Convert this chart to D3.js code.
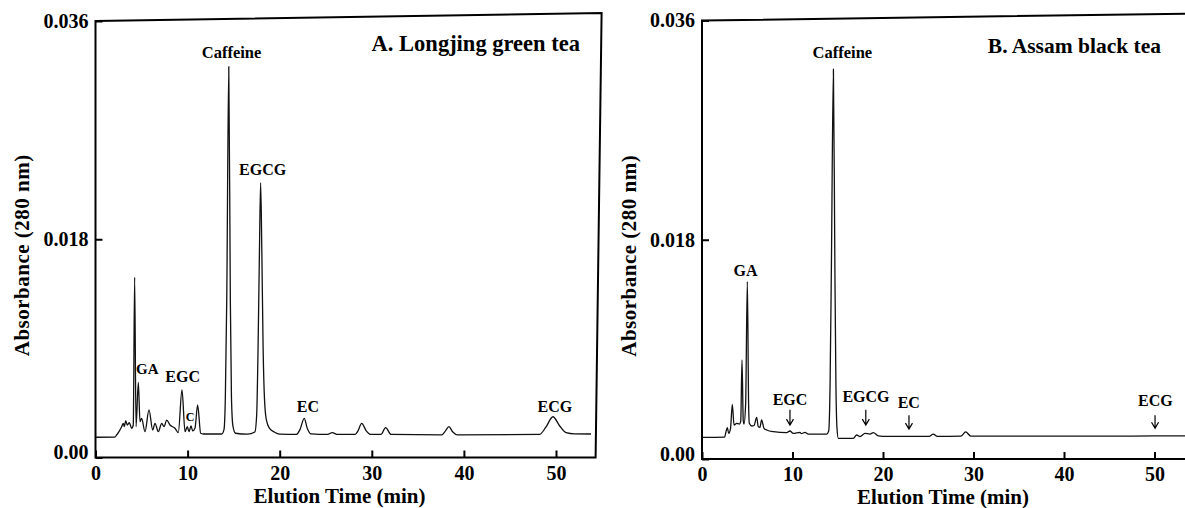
<!DOCTYPE html>
<meta charset="utf-8">
<style>
body { margin: 0; background: #fff; }
.trace { fill: none; stroke: #111; stroke-width: 1.3px; }
.frame { fill: none; stroke: #000; stroke-width: 2px; }
.arrow { fill: none; stroke: #000; stroke-width: 1.2px; }
text { font-family: "Liberation Serif", "DejaVu Serif", serif; font-weight: bold; fill: #000; }
</style>
<body>
<script src="https://cdn.jsdelivr.net/npm/d3@7"></script>
<script>

// tick values and labels
var xTicks = [0, 10, 20, 30, 40, 50];
var yTicks = [0, 0.018, 0.036];
var yTickLabels = ["0.00", "0.018", "0.036"];

// chromatogram A: [time (min), absorbance]
var traceA = [
  [0, 0.00167], [2.1, 0.00168], [2.3, 0.00186], [2.48, 0.00205], [2.84, 0.00254], [3.02, 0.00282],
  [3.13, 0.00254], [3.28, 0.00304], [3.45, 0.00268], [3.67, 0.00287], [3.93, 0.00241], [4.1, 0.00268],
  [4.25, 0.01486], [4.4, 0.00254], [4.65, 0.0062], [4.83, 0.00295], [5.01, 0.00323], [5.37, 0.00213],
  [5.81, 0.00392], [6.21, 0.00227], [6.46, 0.00282], [6.82, 0.00213], [7.19, 0.00282], [7.44, 0.00254],
  [7.73, 0.00309], [8.09, 0.00268], [8.63, 0.00241], [8.99, 0.00205], [9.39, 0.00557], [9.72, 0.00213],
  [9.97, 0.00254], [10.15, 0.00213], [10.37, 0.0026], [10.55, 0.00219], [10.8, 0.00241], [11.09, 0.00433],
  [11.42, 0.002], [11.7, 0.00194], [13.7, 0.00194], [13.95, 0.0023], [14.1, 0.005], [14.25, 0.013],
  [14.47, 0.03223], [14.64, 0.013], [14.76, 0.005], [14.92, 0.0026], [15.2, 0.002], [16.5, 0.00192],
  [17.3, 0.0021], [17.5, 0.0035], [17.65, 0.009], [17.8, 0.017], [17.93, 0.02266], [18.06, 0.017],
  [18.2, 0.009], [18.35, 0.0048], [18.55, 0.0031], [18.9, 0.0024], [19.4, 0.0021], [20, 0.00192],
  [21.8, 0.0019], [22.2, 0.0023], [22.66, 0.00323], [23.0, 0.0024], [23.4, 0.00195], [25.2, 0.0019],
  [25.7, 0.00205], [26.3, 0.0019], [28.2, 0.0019], [28.5, 0.0022], [28.9, 0.00282], [29.4, 0.0022],
  [29.9, 0.0019], [31.0, 0.0019], [31.5, 0.00246], [32.1, 0.0019], [37.6, 0.00186], [38.0, 0.0022],
  [38.37, 0.00254], [38.8, 0.0021], [39.3, 0.00186], [48.2, 0.0019], [48.9, 0.0025], [49.67, 0.00336],
  [50.4, 0.0026], [51.1, 0.00205], [52, 0.00195], [53.8, 0.00194]
];

// chromatogram B: [time (min), absorbance]
var traceB = [
  [0, 0.00178], [2.5, 0.0018], [2.65, 0.00224], [2.8, 0.00257], [2.95, 0.00211], [3.15, 0.0025],
  [3.35, 0.00449], [3.54, 0.00279], [3.83, 0.00293], [4.13, 0.00287], [4.28, 0.0031], [4.42, 0.00813],
  [4.56, 0.0031], [4.64, 0.00287], [4.82, 0.0045], [5.01, 0.01456], [5.15, 0.0045], [5.23, 0.00293],
  [5.49, 0.00271], [5.75, 0.00275], [6.04, 0.00342], [6.22, 0.00265], [6.4, 0.0026], [6.59, 0.0032],
  [6.85, 0.00252], [7.15, 0.00238], [7.88, 0.00224], [9.36, 0.00216], [9.72, 0.0023], [10.09, 0.0021],
  [10.83, 0.00219], [10.98, 0.00208], [11.38, 0.00219], [11.75, 0.00205], [13.78, 0.00205], [14.0, 0.0023],
  [14.15, 0.006], [14.3, 0.016], [14.52, 0.032], [14.68, 0.016], [14.8, 0.006], [14.92, 0.0025],
  [15.06, 0.0017], [16.72, 0.0017], [17.09, 0.00197], [17.46, 0.00183], [18.01, 0.0021], [18.56, 0.00205],
  [18.93, 0.00216], [19.48, 0.0019], [20.4, 0.00185], [25.1, 0.00185], [25.56, 0.00205], [26.0, 0.00185],
  [28.6, 0.00188], [29.14, 0.00222], [29.7, 0.00188], [35, 0.00187], [45, 0.00187], [50, 0.0019],
  [54.6, 0.0019]
];

// peak labels: [text, time, absorbance, font size]
var labelsA = [
  ["Caffeine", 14.77, 0.0334, 16.5], ["EGCG", 18.15, 0.02377, 16], ["GA", 5.62, 0.00736, 15],
  ["EGC", 9.46, 0.00672, 16], ["C", 10.26, 0.00336, 12], ["EC", 23.07, 0.00425, 16],
  ["ECG", 49.88, 0.00425, 16]
];
var labelsB = [
  ["Caffeine", 15.51, 0.03336, 16.5], ["GA", 4.82, 0.01552, 16], ["EGC", 9.72, 0.0049, 16],
  ["EGCG", 18.12, 0.00517, 16], ["EC", 22.85, 0.00462, 16], ["ECG", 50.1, 0.00484, 16]
];
// arrows in B: [time, top absorbance, tip absorbance]
var arrowsB = [
  [9.72, 0.00405, 0.00278], [18.1, 0.00405, 0.00278], [22.87, 0.0036, 0.00245], [50.06, 0.0036, 0.00252]
];

var titleA = "A. Longjing green tea", titleB = "B. Assam black tea";
var xTitle = "Elution Time (min)", yTitle = "Absorbance (280 nm)";

var svg = d3.select("body").append("svg")
    .attr("width", 1185)
    .attr("height", 508);

function drawPanel(p) {
  var x = d3.scaleLinear().domain([0, 50]).range(p.xr);
  var y = d3.scaleLinear().domain([0, 0.036]).range(p.yr);
  var g = svg.append("g");

  // frame (scan is slightly tilted at the top right)
  var x0 = x(0), x1 = x(p.xEnd), y0 = y(0), y1 = y(0.036);
  g.append("path")
      .attr("class", "frame")
      .attr("d", "M" + x0 + "," + y1 + "L" + (x1 + p.tilt[0]) + "," + (y1 - p.tilt[1]) +
                 "L" + x1 + "," + y0 + "L" + x0 + "," + y0 + "Z");

  // x axis
  var gx = g.append("g")
      .attr("transform", "translate(0," + y0 + ")")
      .call(d3.axisBottom(x).tickValues(xTicks).tickSize(-7).tickPadding(8).tickFormat(d3.format("d")));
  gx.select(".domain").remove();
  gx.selectAll("line").attr("stroke-width", 2);
  gx.selectAll("text").attr("font-family", null).attr("font-size", 20);

  // y axis
  var gy = g.append("g")
      .attr("transform", "translate(" + x0 + ",0)")
      .call(d3.axisLeft(y).tickValues(yTicks).tickSize(-7).tickPadding(7)
        .tickFormat(function(d, i) { return yTickLabels[i]; }));
  gy.select(".domain").remove();
  gy.selectAll("line").attr("stroke-width", 2);
  gy.selectAll("text").attr("font-family", null).attr("font-size", 20)
      .attr("y", function(d) { return d === 0 ? -5 : 0; });

  // axis titles
  g.append("text")
      .attr("x", (x0 + x1) / 2 - 6)
      .attr("y", y0 + 45)
      .attr("text-anchor", "middle")
      .attr("font-size", 21)
      .text(xTitle);
  g.append("text")
      .attr("transform", "translate(" + (x0 - p.yTitleOff) + "," + ((y0 + y1) / 2 + 16) + ") rotate(-90)")
      .attr("text-anchor", "middle")
      .attr("font-size", 21)
      .attr("letter-spacing", 0.5)
      .text(yTitle);

  // trace
  var line = d3.line()
      .x(function(d) { return x(d[0]); })
      .y(function(d) { return y(d[1]); })
      .curve(d3.curveMonotoneX);
  g.append("path")
      .datum(p.trace)
      .attr("class", "trace")
      .attr("d", line);

  // peak labels
  g.selectAll(".lbl")
    .data(p.labels)
    .enter().append("text")
      .attr("class", "lbl")
      .attr("x", function(d) { return x(d[1]); })
      .attr("y", function(d) { return y(d[2]); })
      .attr("dy", "0.35em")
      .attr("text-anchor", "middle")
      .attr("font-size", function(d) { return d[3]; })
      .text(function(d) { return d[0]; });

  // arrows
  g.selectAll(".arrow")
    .data(p.arrows)
    .enter().append("path")
      .attr("class", "arrow")
      .attr("d", function(d) {
        var ax = x(d[0]), ya = y(d[1]), yb = y(d[2]);
        return "M" + ax + "," + ya + "L" + ax + "," + yb +
               "M" + (ax - 3.5) + "," + (yb - 6) + "L" + ax + "," + yb + "L" + (ax + 3.5) + "," + (yb - 6);
      });

  // panel title
  g.append("text")
      .attr("x", x(p.titlePos[0]))
      .attr("y", y(p.titlePos[1]))
      .attr("dy", "0.35em")
      .attr("text-anchor", "end")
      .attr("font-size", p.titleSize)
      .text(p.title);
}

drawPanel({ xr: [95.5, 556], yr: [457.5, 21], xEnd: 54.3, tilt: [6, 8], trace: traceA,
            labels: labelsA, arrows: [], title: titleA, titleSize: 22.5, titlePos: [52.6, 0.03416], yTitleOff: 67 });
drawPanel({ xr: [702, 1154.5], yr: [459, 20.5], xEnd: 54.6, tilt: [6, 7], trace: traceB,
            labels: labelsB, arrows: arrowsB, title: titleB, titleSize: 21.5, titlePos: [50.72, 0.03399], yTitleOff: 66 });

</script>
</body>
